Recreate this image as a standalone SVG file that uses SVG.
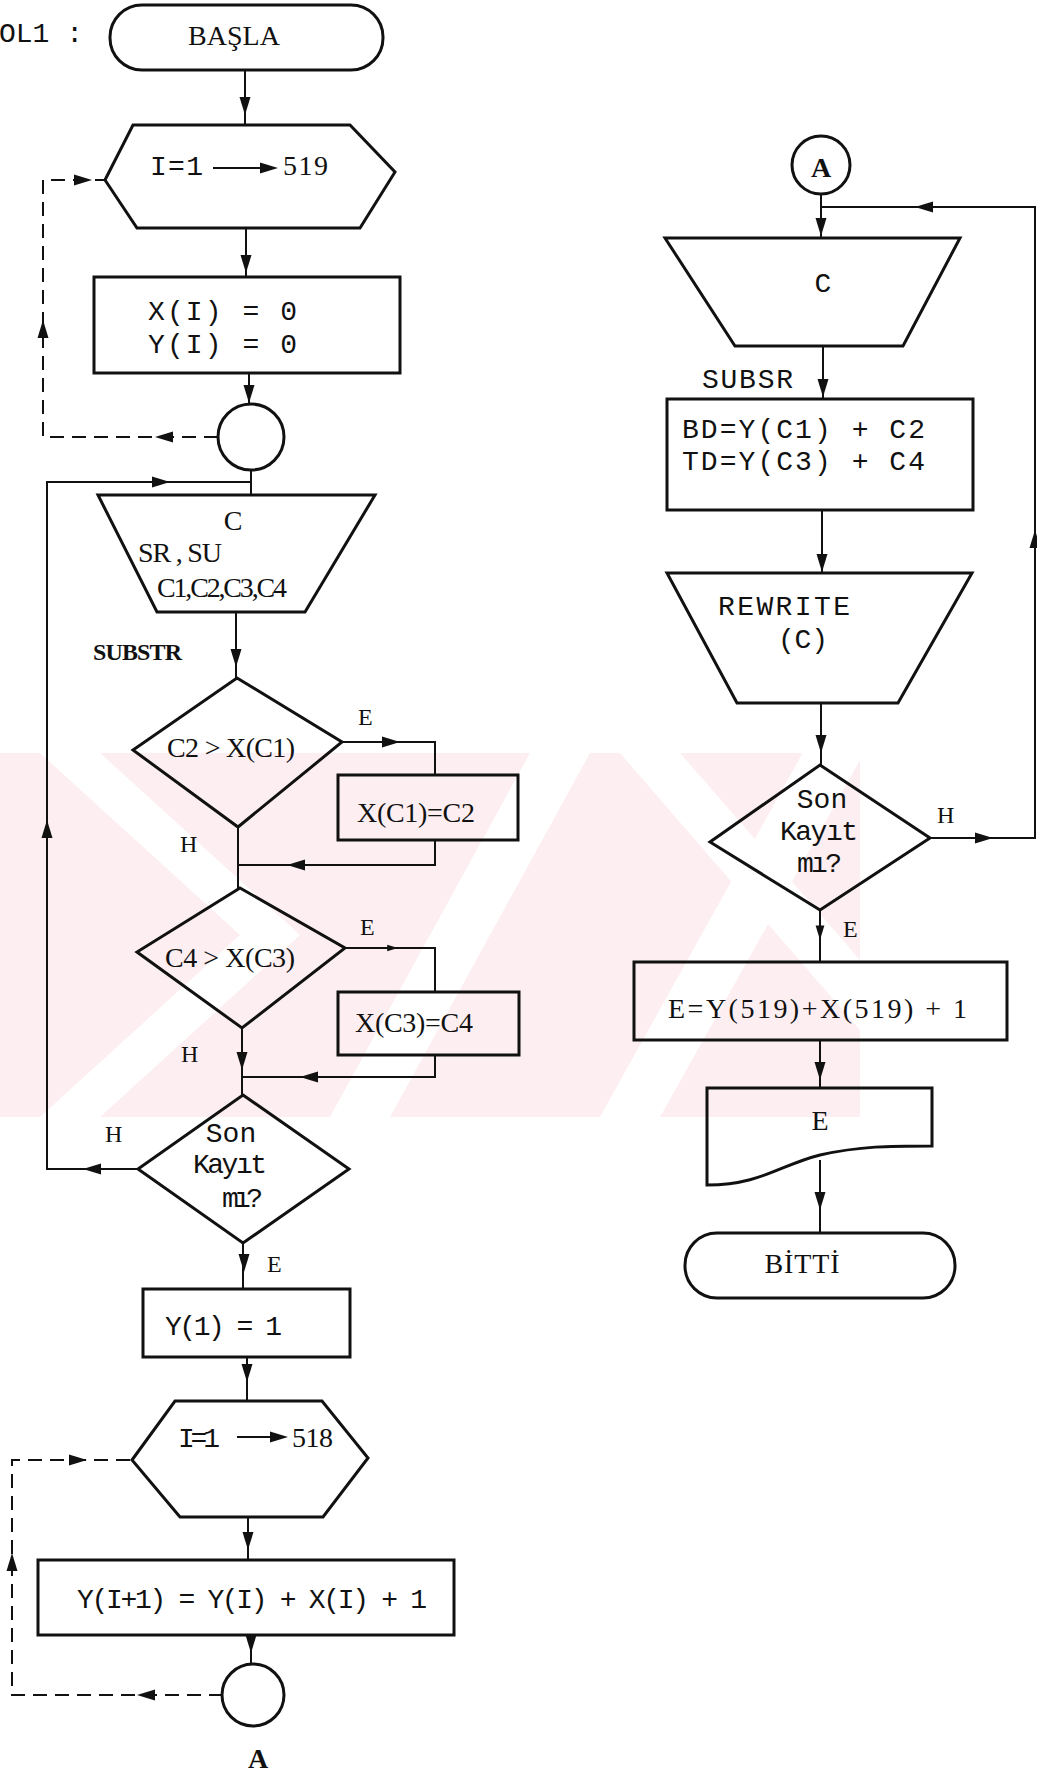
<svg xmlns="http://www.w3.org/2000/svg" width="1037" height="1775" viewBox="0 0 1037 1775">
<defs>
<style>
.s{fill:none;stroke:#111;stroke-width:3;stroke-linejoin:miter}
.c{fill:none;stroke:#111;stroke-width:2}
.d{fill:none;stroke:#111;stroke-width:2;stroke-dasharray:14 8}
.m{font-family:"Liberation Mono",monospace;font-size:28px;fill:#111}
.r{font-family:"Liberation Serif",serif;font-size:28px;fill:#111}
.l{font-family:"Liberation Serif",serif;font-size:24px;fill:#111}
.wm{fill:#fdeff1}
.ws{fill:#fff}
</style>
<path id="ah" d="M0,0 L-5.5,-18 L5.5,-18 Z" fill="#111"/>
</defs>
<rect width="1037" height="1775" fill="#fff"/>
<g id="watermark">
<rect class="wm" x="0" y="753" width="860" height="364"/>
<polygon class="ws" points="40,753 100,753 300,935 100,1117 40,1117 240,935"/>
<polygon class="ws" points="330,1117 390,1117 590,753 530,753"/>
<polygon class="ws" points="600,1117 660,1117 860,760 860,650"/>
<polygon class="ws" points="620,753 680,753 860,960 860,1030"/>
</g>
<text class="m" x="-1" y="42">OL1  :</text>
<g id="n_start"><rect class="s" x="110" y="5" width="273" height="65" rx="32"/><text class="r" x="234" y="45" text-anchor="middle" textLength="92">BAŞLA</text></g>
<g id="n_loop1"><polygon class="s" points="105,180 133,125 350,125 395,172 360,228 137,228"/><text class="m" x="150" y="175" textLength="53">I=1</text><line class="c" x1="213" y1="168" x2="262" y2="168"/><use href="#ah" transform="translate(278,168) rotate(-90)"/><text class="r" x="283" y="175" textLength="45">519</text></g>
<g id="n_init"><rect class="s" x="94" y="277" width="306" height="96"/><text class="m" x="148" y="320" textLength="149">X(I) = 0</text><text class="m" x="148" y="353" textLength="149">Y(I) = 0</text></g>
<g id="n_end1"><circle class="s" cx="251" cy="437" r="33"/></g>
<g id="n_read"><polygon class="s" points="98,495 375,495 305,612 157,612"/><text class="r" x="233" y="530" text-anchor="middle">C</text><text class="r" x="138" y="562" textLength="84">SR , SU</text><text class="r" x="157" y="597" textLength="130">C1,C2,C3,C4</text></g>
<text class="l" x="93" y="660" font-weight="bold" textLength="89">SUBSTR</text>
<g id="n_dec1"><polygon class="s" points="237,678 342,742 238,827 133,750"/><text class="r" x="167" y="757" textLength="128">C2 &gt; X(C1)</text></g>
<g id="n_set1"><rect class="s" x="338" y="775" width="180" height="65"/><text class="r" x="357" y="822" textLength="118">X(C1)=C2</text></g>
<g id="n_dec2"><polygon class="s" points="240,888 345,948 242,1028 137,952"/><text class="r" x="165" y="967" textLength="130">C4 &gt; X(C3)</text></g>
<g id="n_set2"><rect class="s" x="338" y="992" width="181" height="63"/><text class="r" x="355" y="1032" textLength="118">X(C3)=C4</text></g>
<g id="n_dec3"><polygon class="s" points="243,1095 349,1169 243,1243 138,1169"/><text class="m" x="231" y="1142" text-anchor="middle" font-size="26">Son</text><text class="m" x="193" y="1173" font-size="26" textLength="74">Kayıt</text><text class="m" x="222" y="1207" font-size="26" textLength="41">mı?</text></g>
<g id="n_y1"><rect class="s" x="143" y="1289" width="207" height="68"/><text class="m" x="165" y="1335" textLength="117">Y(1) = 1</text></g>
<g id="n_loop2"><polygon class="s" points="132,1460 175,1401 322,1401 368,1458 323,1517 180,1517"/><text class="m" x="178" y="1447" textLength="42">I=1</text><line class="c" x1="237" y1="1437" x2="272" y2="1437"/><use href="#ah" transform="translate(288,1437) rotate(-90)"/><text class="r" x="292" y="1447" textLength="41">518</text></g>
<g id="n_calc"><rect class="s" x="38" y="1560" width="416" height="75"/><text class="m" x="77" y="1608" textLength="350">Y(I+1) = Y(I) + X(I) + 1</text></g>
<g id="n_end2"><circle class="s" cx="253" cy="1695" r="31"/><text class="r" x="258" y="1768" text-anchor="middle" font-weight="bold" font-size="26">A</text></g>
<g id="n_A"><circle class="s" cx="821" cy="165" r="29"/><text class="r" x="821" y="177" text-anchor="middle" font-weight="bold" font-size="26">A</text></g>
<g id="n_read2"><polygon class="s" points="665,238 960,238 903,346 735,346"/><text class="m" x="823" y="292" text-anchor="middle">C</text></g>
<text class="m" x="702" y="388" textLength="91">SUBSR</text>
<g id="n_bd"><rect class="s" x="667" y="399" width="306" height="111"/><text class="m" x="682" y="438" textLength="243">BD=Y(C1) + C2</text><text class="m" x="682" y="470" textLength="243">TD=Y(C3) + C4</text></g>
<g id="n_rewrite"><polygon class="s" points="667,573 972,573 898,703 737,703"/><text class="m" x="718" y="615" textLength="132">REWRITE</text><text class="m" x="778" y="648" textLength="50">(C)</text></g>
<g id="n_dec4"><polygon class="s" points="820,765 930,838 820,910 710,842"/><text class="m" x="822" y="808" text-anchor="middle" font-size="26">Son</text><text class="m" x="780" y="840" font-size="26" textLength="78">Kayıt</text><text class="m" x="797" y="872" font-size="26" textLength="45">mı?</text></g>
<g id="n_e"><rect class="s" x="634" y="962" width="373" height="78"/><text class="r" x="668" y="1018" textLength="299">E=Y(519)+X(519) + 1</text></g>
<g id="n_print"><path class="s" d="M707,1088 H932 V1146 C890,1146 860,1146 820,1155 C780,1165 760,1185 707,1185 Z"/><text class="r" x="820" y="1130" text-anchor="middle">E</text></g>
<g id="n_stop"><rect class="s" x="685" y="1233" width="270" height="65" rx="32"/><text class="r" x="802" y="1273" text-anchor="middle" textLength="75">BİTTİ</text></g>
<g id="labels">
<text class="l" x="358" y="725">E</text>
<text class="l" x="180" y="852">H</text>
<text class="l" x="360" y="935">E</text>
<text class="l" x="181" y="1062">H</text>
<text class="l" x="105" y="1142">H</text>
<text class="l" x="267" y="1272">E</text>
<text class="l" x="937" y="823">H</text>
<text class="l" x="843" y="937">E</text>
</g>
<g id="connectors">
<path class="c" d="M245,70 V125"/><use href="#ah" transform="translate(245,115)"/>
<path class="c" d="M246,228 V277"/><use href="#ah" transform="translate(246,273)"/>
<path class="c" d="M249,373 V405"/><use href="#ah" transform="translate(249,403)"/>
<path class="d" d="M218,437 H43 V180 H105"/>
<use href="#ah" transform="translate(155,437) rotate(90)"/>
<use href="#ah" transform="translate(43,320) rotate(180)"/>
<use href="#ah" transform="translate(92,180) rotate(-90)"/>
<path class="c" d="M251,470 V495"/>
<path class="c" d="M138,1169 H47 V482 H251"/>
<use href="#ah" transform="translate(83,1169) rotate(90)"/>
<use href="#ah" transform="translate(47,820) rotate(180)"/>
<use href="#ah" transform="translate(170,482) rotate(-90)"/>
<path class="c" d="M236,612 V678"/><use href="#ah" transform="translate(236,667)"/>
<path class="c" d="M342,742 H435 V775"/><use href="#ah" transform="translate(400,742) rotate(-90)"/>
<path class="c" d="M435,840 V865 H238"/><use href="#ah" transform="translate(287,865) rotate(90)"/>
<path class="c" d="M238,827 V888"/>
<path class="c" d="M345,948 H435 V992"/><use href="#ah" transform="translate(398,948) rotate(-90) scale(0.6)"/>
<path class="c" d="M435,1055 V1077 H242"/><use href="#ah" transform="translate(300,1077) rotate(90)"/>
<path class="c" d="M242,1028 V1095"/><use href="#ah" transform="translate(242,1070)"/>
<path class="c" d="M243,1243 V1289"/><use href="#ah" transform="translate(244,1272)"/>
<path class="c" d="M247,1357 V1401"/><use href="#ah" transform="translate(247,1382)"/>
<path class="c" d="M248,1517 V1560"/><use href="#ah" transform="translate(248,1550)"/>
<path class="c" d="M251,1635 V1664"/><use href="#ah" transform="translate(251,1653)"/>
<path class="d" d="M223,1695 H12 V1460 H132"/>
<use href="#ah" transform="translate(137,1695) rotate(90)"/>
<use href="#ah" transform="translate(12,1553) rotate(180)"/>
<use href="#ah" transform="translate(87,1460) rotate(-90)"/>
<path class="c" d="M821,194 V238"/><use href="#ah" transform="translate(821,236)"/>
<path class="c" d="M930,838 H1035 V207 H821"/>
<use href="#ah" transform="translate(993,838) rotate(-90)"/>
<use href="#ah" transform="translate(1035,530) rotate(180)"/>
<use href="#ah" transform="translate(915,207) rotate(90)"/>
<path class="c" d="M823,346 V399"/><use href="#ah" transform="translate(823,397)"/>
<path class="c" d="M822,510 V573"/><use href="#ah" transform="translate(822,572)"/>
<path class="c" d="M821,703 V765"/><use href="#ah" transform="translate(821,753)"/>
<path class="c" d="M820,910 V962"/><use href="#ah" transform="translate(820,940) scale(0.8)"/>
<path class="c" d="M820,1040 V1088"/><use href="#ah" transform="translate(820,1080)"/>
<path class="c" d="M820,1160 V1233"/><use href="#ah" transform="translate(820,1210)"/>
</g>
</svg>
